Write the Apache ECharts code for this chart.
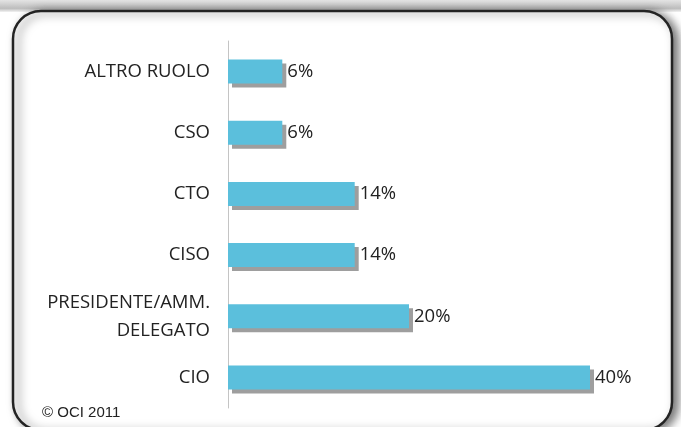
<!DOCTYPE html>
<html>
<head>
<meta charset="utf-8">
<script src="https://cdn.jsdelivr.net/npm/echarts@6/dist/echarts.min.js"></script>
<style>
  html, body { margin: 0; padding: 0; background: #fff; }
  #chart { width: 681px; height: 427px; }
</style>
</head>
<body>
<div id="chart"></div>
<script>
// data, top to bottom
var ruoli = ['ALTRO RUOLO', 'CSO', 'CTO', 'CISO', 'PRESIDENTE/AMM.\nDELEGATO', 'CIO'];
var percentuali = [6, 6, 14, 14, 20, 40];
var fonte = '© OCI 2011';

var myChart = echarts.init(document.getElementById('chart'));

var option = {
    animation: false,
    grid: {
        left: 228,
        top: 41,
        width: 362,
        height: 367
    },
    graphic: [
        {
            type: 'rect',
            z: -10,
            shape: { x: 0, y: 0, width: 681, height: 12 },
            style: {
                fill: {
                    type: 'linear', x: 0, y: 0, x2: 0, y2: 1,
                    colorStops: [
                        { offset: 0, color: '#e4e4e4' },
                        { offset: 0.7, color: '#bdbdbd' },
                        { offset: 1, color: '#f2f2f2' }
                    ]
                }
            }
        },
        {
            type: 'rect',
            z: -5,
            shape: { x: 13, y: 11, width: 659, height: 419, r: 28 },
            style: {
                fill: '#fff',
                stroke: '#232323',
                lineWidth: 2.5,
                shadowBlur: 10,
                shadowOffsetX: 5,
                shadowOffsetY: 2,
                shadowColor: 'rgba(0,0,0,0.55)'
            }
        },
        {
            type: 'text',
            left: 42,
            top: 405,
            style: {
                text: fonte,
                font: '15px "Liberation Sans", Arial, sans-serif',
                fill: '#222'
            }
        }
    ],
    xAxis: {
        type: 'value',
        min: 0,
        max: 40,
        show: false
    },
    yAxis: {
        type: 'category',
        inverse: true,
        data: ruoli,
        axisLine: { lineStyle: { color: '#c4c4c4', width: 1 } },
        axisTick: { show: false },
        axisLabel: {
            margin: 18,
            fontSize: 18.5,
            lineHeight: 28,
            color: '#222',
            fontFamily: '"Open Sans", sans-serif',
            align: 'right'
        }
    },
    series: [{
        type: 'bar',
        data: percentuali,
        barWidth: 24,
        itemStyle: {
            color: '#5bbfdc',
            shadowColor: '#9e9e9e',
            shadowBlur: 0,
            shadowOffsetX: 4,
            shadowOffsetY: 4
        },
        label: {
            show: true,
            position: 'right',
            distance: 5,
            formatter: '{c}%',
            fontSize: 18.5,
            color: '#222',
            fontFamily: '"Open Sans", sans-serif'
        }
    }]
};

myChart.setOption(option);
</script>
</body>
</html>
